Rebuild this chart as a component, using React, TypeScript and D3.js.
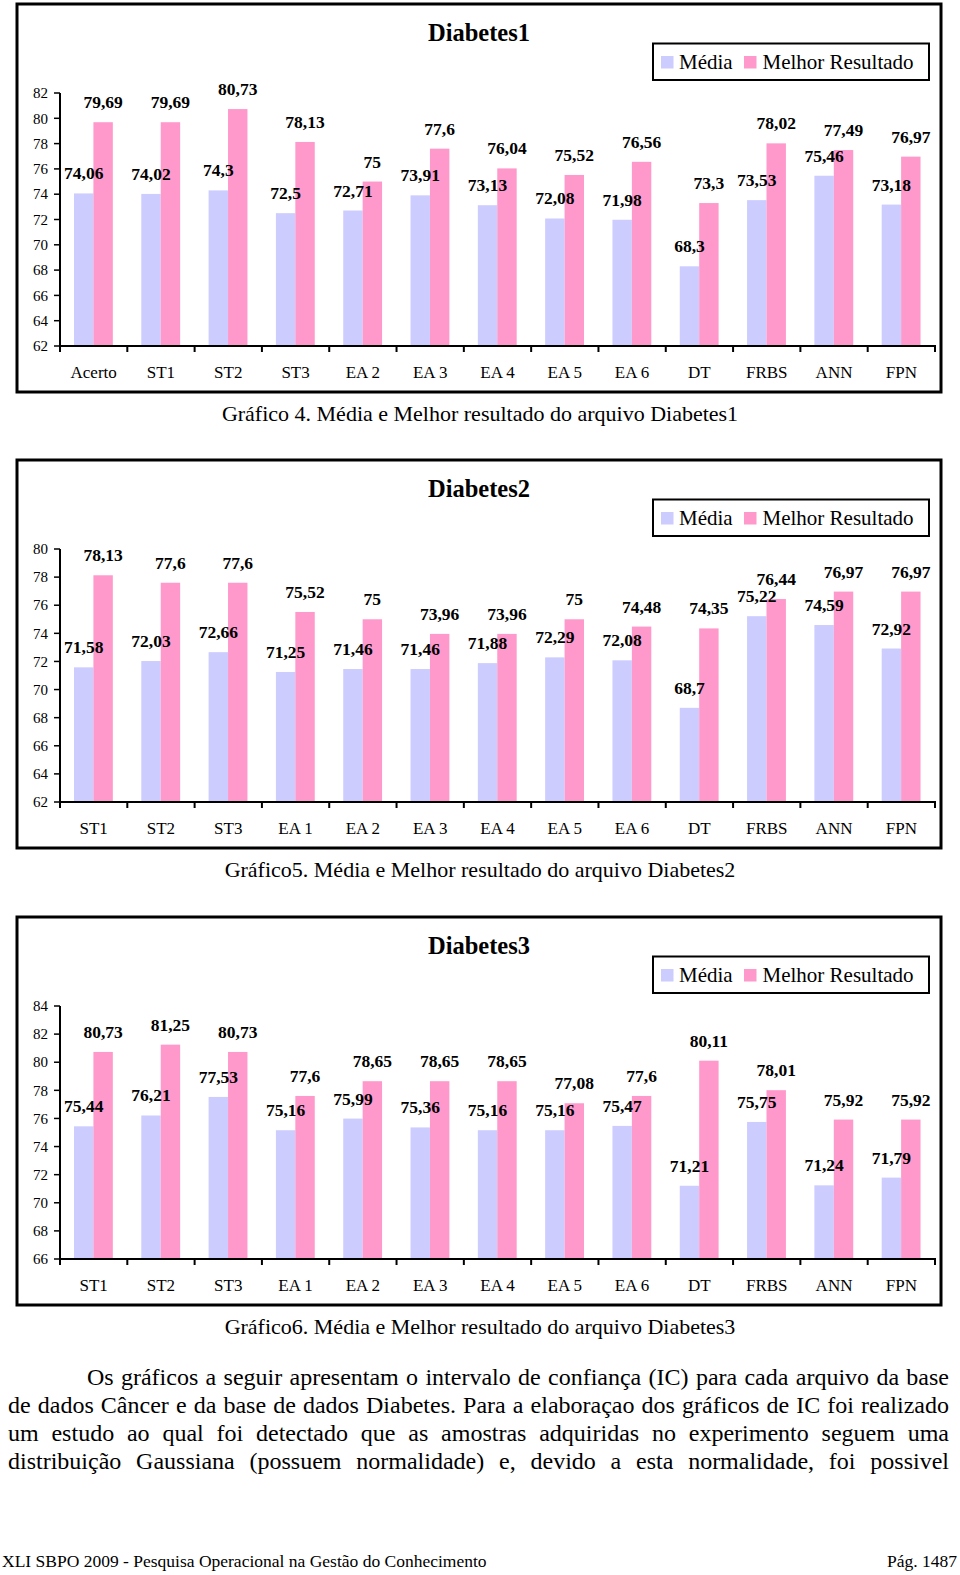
import React, { useEffect, useRef } from "react";
import * as d3 from "d3";

const CATS1 = ["Acerto", "ST1", "ST2", "ST3", "EA 2", "EA 3", "EA 4", "EA 5", "EA 6", "DT", "FRBS", "ANN", "FPN"];
const CATS23 = ["ST1", "ST2", "ST3", "EA 1", "EA 2", "EA 3", "EA 4", "EA 5", "EA 6", "DT", "FRBS", "ANN", "FPN"];

const D1_MEDIA = [74.06, 74.02, 74.3, 72.5, 72.71, 73.91, 73.13, 72.08, 71.98, 68.3, 73.53, 75.46, 73.18];
const D1_MELHOR = [79.69, 79.69, 80.73, 78.13, 75, 77.6, 76.04, 75.52, 76.56, 73.3, 78.02, 77.49, 76.97];

const D2_MEDIA = [71.58, 72.03, 72.66, 71.25, 71.46, 71.46, 71.88, 72.29, 72.08, 68.7, 75.22, 74.59, 72.92];
const D2_MELHOR = [78.13, 77.6, 77.6, 75.52, 75, 73.96, 73.96, 75, 74.48, 74.35, 76.44, 76.97, 76.97];

const D3_MEDIA = [75.44, 76.21, 77.53, 75.16, 75.99, 75.36, 75.16, 75.16, 75.47, 71.21, 75.75, 71.24, 71.79];
const D3_MELHOR = [80.73, 81.25, 80.73, 77.6, 78.65, 78.65, 78.65, 77.08, 77.6, 80.11, 78.01, 75.92, 75.92];

const SERIES = ["Média", "Melhor Resultado"];
const COLORS = ["#CCCCFF", "#FF99CC"];

const PARAGRAPH = [
  "Os gráficos a seguir apresentam o intervalo de confiança (IC) para cada arquivo da base",
  "de dados Câncer e da base de dados Diabetes. Para a elaboraçao dos gráficos de IC foi realizado",
  "um estudo ao qual foi detectado que as amostras adquiridas no experimento seguem uma",
  "distribuição Gaussiana (possuem normalidade) e, devido a esta normalidade, foi possivel",
];
const FOOTER_LEFT = "XLI SBPO 2009 - Pesquisa Operacional na Gestão do Conhecimento";
const FOOTER_RIGHT = "Pág. 1487";

const FONT = "'Liberation Serif', 'Times New Roman', Times, serif";
const fmt = (v: number) => String(v).replace(".", ",");

type ChartProps = {
  top: number;
  title: string;
  caption: string;
  cats: string[];
  media: number[];
  melhor: number[];
  yMin: number;
  yMax: number;
};

function Chart({ top, title, caption, cats, media, melhor, yMin, yMax }: ChartProps) {
  const x0 = 60, x1 = 935;
  const yBottom = top + 342, yTop = top + 89;
  const x = d3.scaleBand<string>().domain(cats).range([x0, x1]).padding(0);
  const bw = x.bandwidth();
  const xs = d3.scaleBand<string>().domain(SERIES).range([bw * 0.208, bw * 0.785]).padding(0);
  const y = d3.scaleLinear().domain([yMin, yMax]).range([yBottom, yTop]);
  const ticks = d3.range(yMin, yMax + 0.001, 2);
  const vals = [media, melhor];
  return (
    <g>
      <rect x={17} y={top} width={924} height={388} fill="#fff" stroke="#000" strokeWidth={3} />
      <text x={479} y={top + 37} textAnchor="middle" fontFamily={FONT} fontWeight="bold" fontSize={24.5}>
        {title}
      </text>
      {/* legend */}
      <rect x={653} y={top + 39.5} width={276} height={36.5} fill="#fff" stroke="#000" strokeWidth={2} />
      <rect x={661} y={top + 52} width={12.5} height={12.5} fill={COLORS[0]} />
      <text x={679} y={top + 64.5} fontFamily={FONT} fontSize={21}>{SERIES[0]}</text>
      <rect x={744} y={top + 52} width={12.5} height={12.5} fill={COLORS[1]} />
      <text x={762.5} y={top + 64.5} fontFamily={FONT} fontSize={21}>{SERIES[1]}</text>
      {/* bars */}
      {cats.map((c, i) =>
        SERIES.map((s, k) => (
          <rect
            key={c + s}
            x={(x(c) as number) + (xs(s) as number)}
            y={y(vals[k][i])}
            width={xs.bandwidth()}
            height={yBottom - y(vals[k][i])}
            fill={COLORS[k]}
          />
        ))
      )}
      {/* axes */}
      <line x1={x0} x2={x0} y1={yTop} y2={yBottom} stroke="#000" strokeWidth={2} />
      {ticks.map((t) => (
        <g key={"yt" + t}>
          <line x1={x0 - 6} x2={x0} y1={y(t)} y2={y(t)} stroke="#000" strokeWidth={1.5} />
          <text x={x0 - 12} y={y(t)} dy="0.35em" textAnchor="end" fontFamily={FONT} fontSize={15}>
            {t}
          </text>
        </g>
      ))}
      <line x1={x0 - 1} x2={x1 + 1} y1={yBottom} y2={yBottom} stroke="#000" strokeWidth={2} />
      {d3.range(cats.length + 1).map((i) => (
        <line key={"xt" + i} x1={x0 + i * bw} x2={x0 + i * bw} y1={yBottom} y2={yBottom + 6} stroke="#000" strokeWidth={2} />
      ))}
      {cats.map((c) => (
        <text key={"xl" + c} x={(x(c) as number) + bw / 2} y={top + 374} textAnchor="middle" fontFamily={FONT} fontSize={17}>
          {c}
        </text>
      ))}
      {/* value labels */}
      {cats.map((c, i) =>
        SERIES.map((s, k) => (
          <text
            key={"v" + c + s}
            x={(x(c) as number) + (xs(s) as number) + xs.bandwidth() / 2}
            y={y(vals[k][i]) - 14}
            textAnchor="middle"
            fontFamily={FONT}
            fontWeight="bold"
            fontSize={17.5}
          >
            {fmt(vals[k][i])}
          </text>
        ))
      )}
      <text x={480} y={top + 417} textAnchor="middle" fontFamily={FONT} fontSize={22}>
        {caption}
      </text>
    </g>
  );
}

function Paragraph() {
  const ref = useRef<SVGGElement>(null);
  useEffect(() => {
    const g = d3.select(ref.current);
    g.selectAll("*").remove();
    const lines = [
      { text: PARAGRAPH[0], x0: 87, x1: 949, y: 1385 },
      { text: PARAGRAPH[1], x0: 8, x1: 949, y: 1413 },
      { text: PARAGRAPH[2], x0: 8, x1: 949, y: 1441 },
      { text: PARAGRAPH[3], x0: 8, x1: 949, y: 1469 },
    ];
    lines.forEach((ln) => {
      const words = ln.text.split(" ");
      const nodes = words.map((w) =>
        g.append("text").attr("y", ln.y).attr("font-family", FONT).attr("font-size", 24).text(w)
      );
      const widths = nodes.map((n) => (n.node() as SVGTextElement).getComputedTextLength());
      const W = ln.x1 - ln.x0;
      let sum = d3.sum(widths);
      const minGap = 4;
      let scale = 1;
      if (sum + minGap * (words.length - 1) > W) {
        scale = (W - minGap * (words.length - 1)) / sum;
      }
      const scaled = widths.map((w) => w * scale);
      sum = d3.sum(scaled);
      const gap = (W - sum) / (words.length - 1);
      let cx = ln.x0;
      nodes.forEach((n, i) => {
        n.attr("x", cx);
        if (scale !== 1) n.attr("textLength", scaled[i]).attr("lengthAdjust", "spacingAndGlyphs");
        cx += scaled[i] + gap;
      });
    });
  }, []);
  return <g ref={ref} />;
}

export default function App() {
  return (
    <svg width={960} height={1575} style={{ position: "absolute", left: 0, top: 0, background: "#fff" }}>
      <rect x={0} y={0} width={960} height={1575} fill="#fff" />
      <Chart top={4} title="Diabetes1" caption="Gráfico 4. Média e Melhor resultado do arquivo Diabetes1"
        cats={CATS1} media={D1_MEDIA} melhor={D1_MELHOR} yMin={62} yMax={82} />
      <Chart top={460} title="Diabetes2" caption="Gráfico5. Média e Melhor resultado do arquivo Diabetes2"
        cats={CATS23} media={D2_MEDIA} melhor={D2_MELHOR} yMin={62} yMax={80} />
      <Chart top={917} title="Diabetes3" caption="Gráfico6. Média e Melhor resultado do arquivo Diabetes3"
        cats={CATS23} media={D3_MEDIA} melhor={D3_MELHOR} yMin={66} yMax={84} />
      <Paragraph />
      <text x={2} y={1567} fontFamily={FONT} fontSize={17.5}>{FOOTER_LEFT}</text>
      <text x={957} y={1567} textAnchor="end" fontFamily={FONT} fontSize={17.5}>{FOOTER_RIGHT}</text>
    </svg>
  );
}
